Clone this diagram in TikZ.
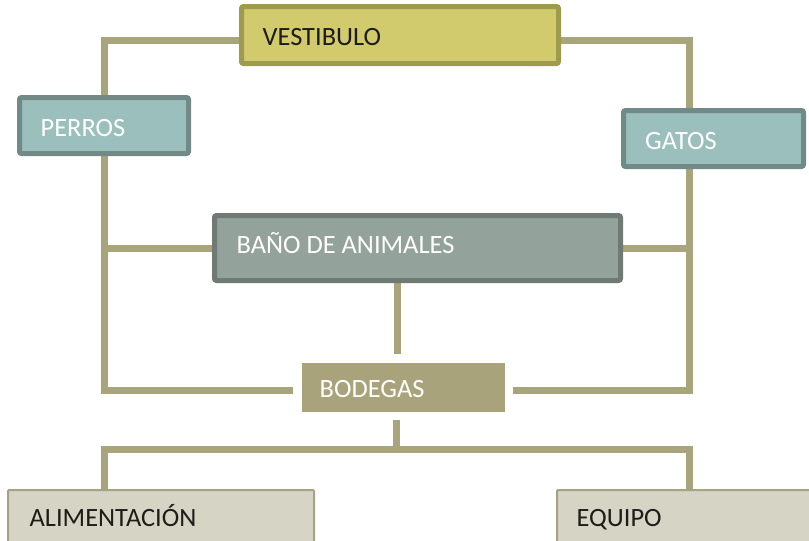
\documentclass[tikz,border=0pt]{standalone}
\usepackage{fontspec}
\setmainfont{Carlito}
\usetikzlibrary{backgrounds}
\definecolor{lineC}{HTML}{A8A47C}
\definecolor{vestF}{HTML}{D1CB6E}
\definecolor{vestD}{HTML}{9E9A4E}
\definecolor{tealF}{HTML}{9BBFBD}
\definecolor{tealD}{HTML}{728A87}
\definecolor{banoF}{HTML}{93A29A}
\definecolor{banoD}{HTML}{6E7A73}
\definecolor{bodF}{HTML}{A8A37B}
\definecolor{alimF}{HTML}{D6D4C4}
\definecolor{alimD}{HTML}{A6A384}
\definecolor{darkT}{HTML}{1C1C18}
\begin{document}
\begin{tikzpicture}[x=1pt,y=-1pt,
  box/.style={anchor=north west,inner sep=0pt,rounded corners=2pt},
  thick box/.style={box,line width=5pt},
  lbl/.style={anchor=base west,inner sep=0pt,font=\fontsize{26.4}{30}\selectfont},
  conn/.style={draw=lineC,line width=7pt,line join=miter,line cap=butt}]
\useasboundingbox (0,0) rectangle (809,541);
% boxes (positions are outer edges)
\node[thick box,draw=vestD,fill=vestF,minimum width=317pt,minimum height=57pt] (vest) at (239,4) {};
\node[thick box,draw=tealD,fill=tealF,minimum width=169pt,minimum height=56pt] (perros) at (17,95) {};
\node[thick box,draw=tealD,fill=tealF,minimum width=180pt,minimum height=56pt] (gatos) at (621,108) {};
\node[thick box,draw=banoD,fill=banoF,minimum width=406pt,minimum height=65pt] (bano) at (212,213) {};
\node[box,fill=bodF,rounded corners=0pt,minimum width=203pt,minimum height=49pt] (bod) at (302,363) {};
\node[box,draw=alimD,line width=2pt,fill=alimF,rounded corners=1pt,minimum width=306pt,minimum height=60pt] (alim) at (7,489) {};
\node[box,draw=alimD,line width=2pt,fill=alimF,rounded corners=1pt,minimum width=260pt,minimum height=60pt] (equipo) at (556,489) {};
% labels
\node[lbl,text=darkT] (vestT) at (262.5,45) {VESTIBULO};
\node[lbl,text=white] (perrosT) at (40.5,136) {PERROS};
\node[lbl,text=white] (gatosT) at (645,149) {GATOS};
\node[lbl,text=white] (banoT) at (236.5,253) {BAÑO DE ANIMALES};
\node[lbl,text=white] (bodT) at (319.5,397) {BODEGAS};
\node[lbl,text=darkT] (alimT) at (29.5,526) {ALIMENTACIÓN};
\node[lbl,text=darkT] (equipoT) at (576.5,526) {EQUIPO};
% coordinates
\coordinate (tl) at (104,40);
\coordinate (tr) at (689,40);
\coordinate (bl) at (104,390);
\coordinate (br) at (689,390);
\coordinate (bodL) at (293,390);
\coordinate (bodR) at (513,390);
\coordinate (bmid) at (397,354);
\coordinate (bodB) at (396,420);
\coordinate (hl) at (104,449.5);
\coordinate (hr) at (689,449.5);
\begin{scope}[on background layer]
\draw[conn] (perros.north) -- (tl) -- (tr) -- (tr |- gatos.north);
\draw[conn] (perros.south) -- (bl) -- (bodL);
\draw[conn] (tr |- gatos.south) -- (br) -- (bodR);
\draw[conn] (bano.west -| tl) -- (bano.west);
\draw[conn] (bano.east) -- (bano.east -| tr);
\draw[conn] (bano.south -| bmid) -- (bmid);
\draw[conn] (bodB) -- (bodB |- hl);
\draw[conn] (alim.north -| hl) -- (hl) -- (hr) -- (equipo.north -| hr);
\end{scope}
\end{tikzpicture}
\end{document}
